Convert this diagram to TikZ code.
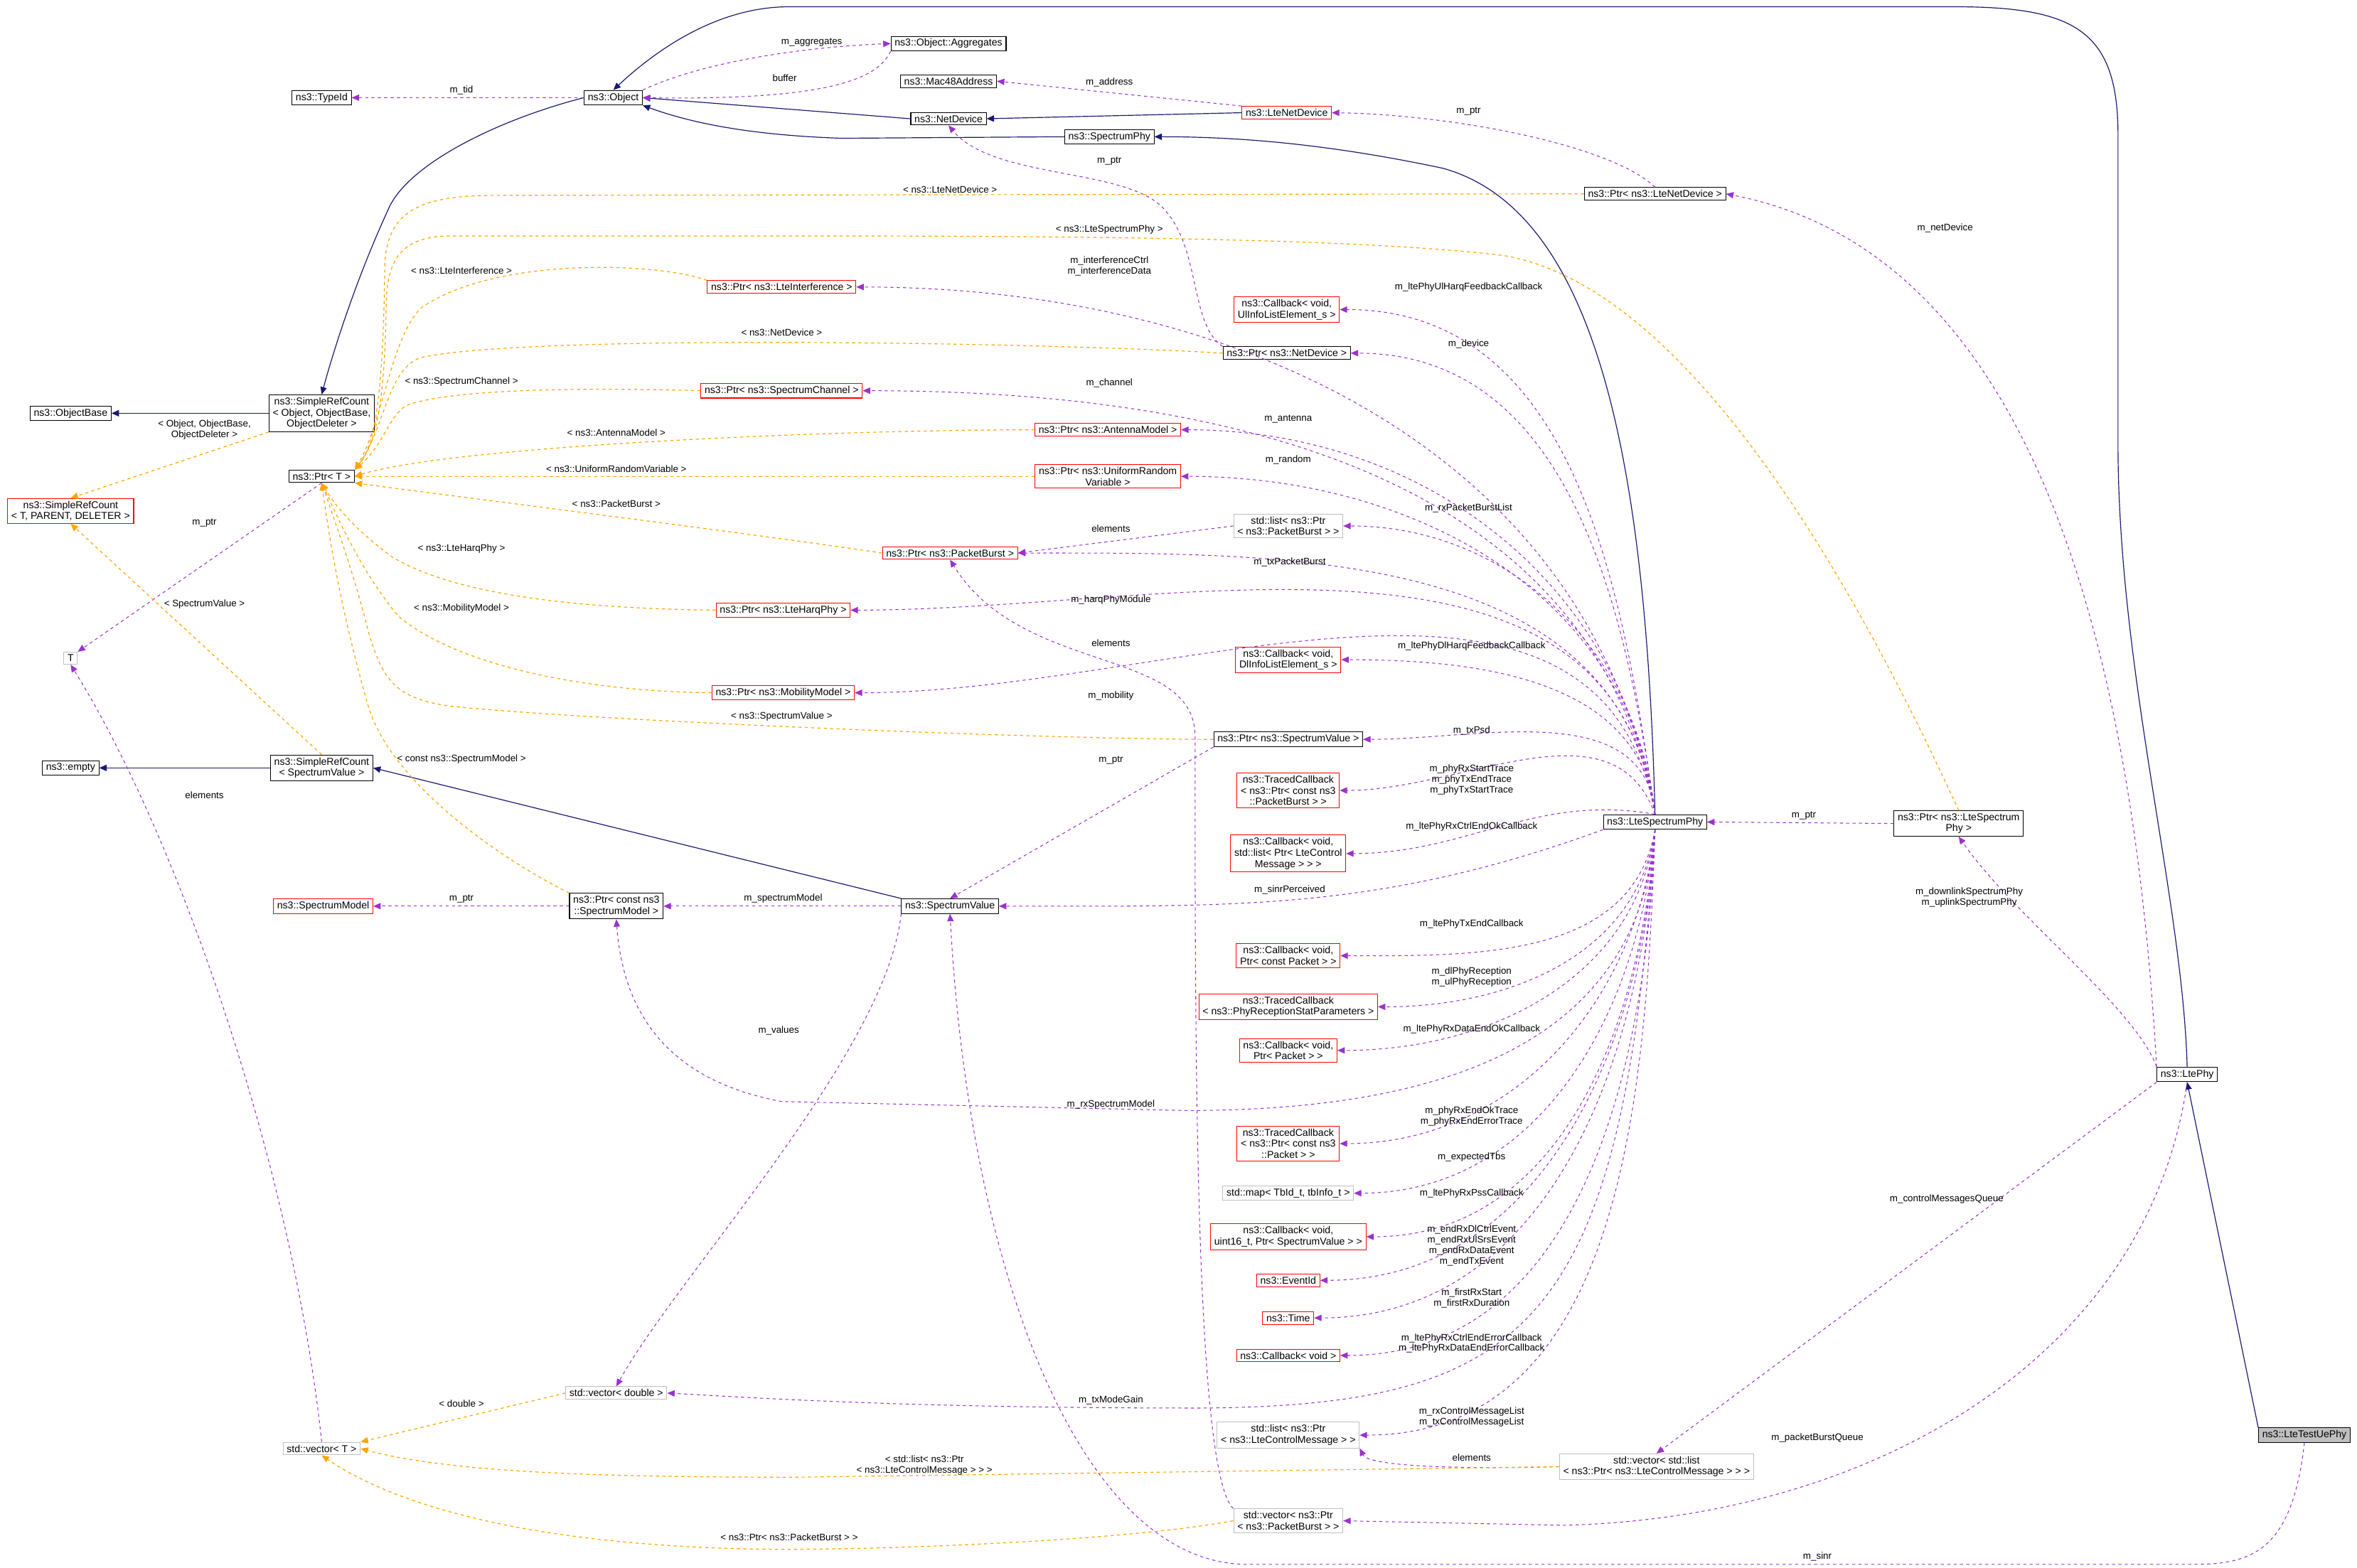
\documentclass[tikz,border=0pt]{standalone}
\usepackage{fontspec}
\setmainfont{Liberation Sans}
\usetikzlibrary{arrows.meta}
\definecolor{navy}{HTML}{191970}
\definecolor{purp}{HTML}{9A32CD}
\definecolor{orng}{HTML}{FFA500}
\definecolor{gry}{HTML}{BFBFBF}
\begin{document}
\begin{tikzpicture}[x=0.05cm,y=-0.05cm,
  box/.style={draw=black,fill=white,line width=0.7pt,inner xsep=3.5pt,inner ysep=2.5pt,align=center,font=\fontsize{9.5}{10.5}\selectfont},
  rbox/.style={box,draw=red},
  gbox/.style={box,draw=gry},
  lbl/.style={font=\fontsize{9}{10}\selectfont,align=center,inner sep=0pt},
  inh/.style={draw=navy,line width=0.8pt,-{Triangle[length=7pt,width=6pt]}},
  use/.style={draw=purp,line width=0.7pt,dashed,-{Triangle[length=7pt,width=6pt]}},
  tpl/.style={draw=orng,line width=0.8pt,dashed,-{Triangle[length=7pt,width=6pt]}}]
\useasboundingbox (0,0) rectangle (1568,1043);
% nodes
\node[box] (obj) at (408,65) {ns3::Object};
\node[box] (agg) at (631,29) {ns3::Object::Aggregates};
\node[box] (tid) at (214,65) {ns3::TypeId};
\node[box] (mac) at (631,54) {ns3::Mac48Address};
\node[box] (nd) at (631,79) {ns3::NetDevice};
\node[rbox] (lnd) at (856,75) {ns3::LteNetDevice};
\node[box] (sp) at (738,91) {ns3::SpectrumPhy};
\node[box] (plnd) at (1101,129) {ns3::Ptr< ns3::LteNetDevice >};
\node[rbox] (pli) at (520,191) {ns3::Ptr< ns3::LteInterference >};
\node[rbox] (cul) at (856,206) {ns3::Callback< void,\\UlInfoListElement\_s >};
\node[box] (pnd) at (856,235) {ns3::Ptr< ns3::NetDevice >};
\node[box] (ob) at (47,275) {ns3::ObjectBase};
\node[box] (src) at (214,275) {ns3::SimpleRefCount\\< Object, ObjectBase,\\ObjectDeleter >};
\node[rbox] (psc) at (520,260) {ns3::Ptr< ns3::SpectrumChannel >};
\node[rbox] (pam) at (737,286) {ns3::Ptr< ns3::AntennaModel >};
\node[box] (pt) at (214,317) {ns3::Ptr< T >};
\node[rbox] (srct) at (47,340) {ns3::SimpleRefCount\\< T, PARENT, DELETER >};
\node[rbox] (pur) at (737,317) {ns3::Ptr< ns3::UniformRandom\\Variable >};
\node[gbox] (lpb) at (857,350) {std::list< ns3::Ptr\\< ns3::PacketBurst > >};
\node[rbox] (ppb) at (632,368) {ns3::Ptr< ns3::PacketBurst >};
\node[rbox] (phq) at (521,406) {ns3::Ptr< ns3::LteHarqPhy >};
\node[gbox] (T) at (47,438) {T};
\node[rbox] (cdl) at (857,439) {ns3::Callback< void,\\DlInfoListElement\_s >};
\node[rbox] (pmm) at (521,461) {ns3::Ptr< ns3::MobilityModel >};
\node[box] (psv) at (857,492) {ns3::Ptr< ns3::SpectrumValue >};
\node[box] (emp) at (47,511) {ns3::empty};
\node[box] (srsv) at (214,511) {ns3::SimpleRefCount\\< SpectrumValue >};
\node[rbox] (tcpb) at (857,526) {ns3::TracedCallback\\< ns3::Ptr< const ns3\\::PacketBurst > >};
\node[box] (lsp) at (1101,547) {ns3::LteSpectrumPhy};
\node[box] (plsp) at (1303,548) {ns3::Ptr< ns3::LteSpectrum\\Phy >};
\node[rbox] (cctl) at (857,568) {ns3::Callback< void,\\std::list< Ptr< LteControl\\Message > > >};
\node[rbox] (sm) at (215,603) {ns3::SpectrumModel};
\node[box] (psm) at (410,603) {ns3::Ptr< const ns3\\::SpectrumModel >};
\node[box] (sv) at (632,603) {ns3::SpectrumValue};
\node[rbox] (cpc) at (857,636) {ns3::Callback< void,\\Ptr< const Packet > >};
\node[rbox] (tcs) at (857,670) {ns3::TracedCallback\\< ns3::PhyReceptionStatParameters >};
\node[rbox] (cp) at (857,699) {ns3::Callback< void,\\Ptr< Packet > >};
\node[box] (lp) at (1455,715) {ns3::LtePhy};
\node[rbox] (tcp) at (857,761) {ns3::TracedCallback\\< ns3::Ptr< const ns3\\::Packet > >};
\node[gbox] (map) at (857,794) {std::map< TbId\_t, tbInfo\_t >};
\node[rbox] (csv) at (857,823) {ns3::Callback< void,\\uint16\_t, Ptr< SpectrumValue > >};
\node[rbox] (eid) at (857,852) {ns3::EventId};
\node[rbox] (tim) at (857,877) {ns3::Time};
\node[rbox] (cv) at (857,902) {ns3::Callback< void >};
\node[gbox] (vd) at (410,927) {std::vector< double >};
\node[gbox] (vt) at (214,964) {std::vector< T >};
\node[gbox] (llc) at (857,955) {std::list< ns3::Ptr\\< ns3::LteControlMessage > >};
\node[box,fill=gry] (tue) at (1533,955) {ns3::LteTestUePhy};
\node[gbox] (vl) at (1102,976) {std::vector< std::list\\< ns3::Ptr< ns3::LteControlMessage > > >};
\node[gbox] (vpb) at (857,1012) {std::vector< ns3::Ptr\\< ns3::PacketBurst > >};
% inheritance
\draw[inh] (obj.west) .. controls (330,80) and (270,110) .. (258,140) .. controls (235,190) and (220,240) .. (src.north);
\draw[inh] (src.west) -- (ob.east);
\draw[inh] (nd.west) -- (obj.east);
\draw[inh] (lnd.west) -- (nd.east);
\draw[inh] (sp.west) -- (560,92) .. controls (500,90) and (460,82) .. (obj.south east);
\draw[inh] (lsp.north) .. controls (1095,300) and (1060,140) .. (960,112) .. controls (880,95) and (820,91) .. (sp.east);
\draw[inh] (lp.north) .. controls (1452,600) and (1410,450) .. (1409,300) -- (1409,90) .. controls (1409,20) and (1380,4.5) .. (1300,4.5) -- (525,4.5) .. controls (480,4.5) and (440,30) .. (obj.north);
\draw[inh] (tue.north west) -- (lp.south);
\draw[inh] (srsv.west) -- (emp.east);
\draw[inh] (sv.north west) -- (srsv.east);
% simple usage
\draw[use] (obj.north east) .. controls (470,40) and (540,31) .. (agg.west);
\node[lbl] at (540,28) {m\_aggregates};
\draw[use] (agg.south west) .. controls (585,50) and (560,67) .. (obj.east);
\node[lbl] at (522,52) {buffer};
\draw[use] (obj.west) -- (tid.east);
\node[lbl] at (307,60) {m\_tid};
\draw[use] (lnd.north west) -- (mac.east);
\node[lbl] at (738,55) {m\_address};
\draw[use] (plnd.north) .. controls (1070,95) and (960,76) .. (lnd.east);
\node[lbl] at (977,74) {m\_ptr};
\draw[use] (pnd.north west) .. controls (790,215) and (800,160) .. (770,135) .. controls (740,112) and (660,118) .. (nd.south);
\node[lbl] at (738,107) {m\_ptr};
\draw[use] (pt.south) -- (T.north east);
\node[lbl] at (136,348) {m\_ptr};
\draw[use] (vt.north) .. controls (195,780) and (120,560) .. (T.south);
\node[lbl] at (136,529) {elements};
\draw[use] (lpb.west) -- (ppb.east);
\node[lbl] at (739,352) {elements};
\draw[use] (vpb.north west) .. controls (795,980) and (795,700) .. (795,490) .. controls (795,430) and (680,450) .. (ppb.south);
\node[lbl] at (739,428) {elements};
\draw[use] (vl.west) .. controls (960,978) and (910,975) .. (llc.south east);
\node[lbl] at (979,970) {elements};
\draw[use] (psv.south west) -- (sv.north);
\node[lbl] at (739,506) {m\_ptr};
\draw[use] (psm.west) -- (sm.east);
\node[lbl] at (307,598) {m\_ptr};
\draw[use] (sv.west) -- (psm.east);
\node[lbl] at (521,598) {m\_spectrumModel};
\draw[use] (sv.south west) .. controls (590,700) and (450,850) .. (vd.north);
\node[lbl] at (518,686) {m\_values};
\draw[use] (plsp.west) -- (lsp.east);
\node[lbl] at (1200,543) {m\_ptr};
\draw[use] (lp.north west) .. controls (1420,450) and (1360,170) .. (plnd.east);
\node[lbl] at (1294,152) {m\_netDevice};
\draw[use] (lp.north west) .. controls (1420,670) and (1340,610) .. (plsp.south);
\node[lbl] at (1310,597) {m\_downlinkSpectrumPhy\\m\_uplinkSpectrumPhy};
\draw[use] (lp.south west) -- (vl.north);
\node[lbl] at (1295,798) {m\_controlMessagesQueue};
\draw[use] (lp.south) .. controls (1430,900) and (1250,1010) .. (1040,1015) -- (vpb.east);
\node[lbl] at (1209,957) {m\_packetBurstQueue};
\draw[use] (tue.south) .. controls (1525,1030) and (1500,1041) .. (1460,1041) -- (830,1041) .. controls (720,1041) and (645,850) .. (sv.south);
\node[lbl] at (1209,1036) {m\_sinr};
% fan from LteSpectrumPhy
\foreach \t/\a in {pli/100,cul/98,pnd/98,psc/100,pam/98,pur/97,lpb/96,ppb/98,phq/98,cdl/96,pmm/100,psv/95,tcpb/110,cctl/170}{
  \draw[use] (lsp.north) to[out=\a,in=0] (\t.east);}
\draw[use] (lsp.south west) to[out=200,in=0] (sv.east);
\foreach \t/\a in {cpc/260,tcs/262,cp/263,tcp/264,map/265,csv/266,eid/267,tim/267,cv/268,llc/268}{
  \draw[use] (lsp.south) to[out=\a,in=0] (\t.east);}
\draw[use] (lsp.south) .. controls (1090,700) and (950,739) .. (789,739) -- (520,733) .. controls (450,720) and (415,680) .. (psm.south);
\draw[use] (lsp.south) .. controls (1080,880) and (1020,935) .. (800,937) .. controls (600,937) and (500,930) .. (vd.east);
\node[lbl] at (738,177) {m\_interferenceCtrl\\m\_interferenceData};
\node[lbl] at (977,191) {m\_ltePhyUlHarqFeedbackCallback};
\node[lbl] at (977,229) {m\_device};
\node[lbl] at (738,255) {m\_channel};
\node[lbl] at (857,279) {m\_antenna};
\node[lbl] at (857,306) {m\_random};
\node[lbl] at (977,338) {m\_rxPacketBurstList};
\node[lbl] at (858,374) {m\_txPacketBurst};
\node[lbl] at (739,399) {m\_harqPhyModule};
\node[lbl] at (979,430) {m\_ltePhyDlHarqFeedbackCallback};
\node[lbl] at (739,463) {m\_mobility};
\node[lbl] at (979,486) {m\_txPsd};
\node[lbl] at (979,519) {m\_phyRxStartTrace\\m\_phyTxEndTrace\\m\_phyTxStartTrace};
\node[lbl] at (979,550) {m\_ltePhyRxCtrlEndOkCallback};
\node[lbl] at (858,592) {m\_sinrPerceived};
\node[lbl] at (979,615) {m\_ltePhyTxEndCallback};
\node[lbl] at (979,650) {m\_dlPhyReception\\m\_ulPhyReception};
\node[lbl] at (979,685) {m\_ltePhyRxDataEndOkCallback};
\node[lbl] at (739,735) {m\_rxSpectrumModel};
\node[lbl] at (979,743) {m\_phyRxEndOkTrace\\m\_phyRxEndErrorTrace};
\node[lbl] at (979,770) {m\_expectedTbs};
\node[lbl] at (979,794) {m\_ltePhyRxPssCallback};
\node[lbl] at (979,829) {m\_endRxDlCtrlEvent\\m\_endRxUlSrsEvent\\m\_endRxDataEvent\\m\_endTxEvent};
\node[lbl] at (979,864) {m\_firstRxStart\\m\_firstRxDuration};
\node[lbl] at (979,894) {m\_ltePhyRxCtrlEndErrorCallback\\m\_ltePhyRxDataEndErrorCallback};
\node[lbl] at (739,932) {m\_txModeGain};
\node[lbl] at (979,943) {m\_rxControlMessageList\\m\_txControlMessageList};
% templates
\draw[tpl] (src.south west) -- (srct.north);
\node[lbl] at (136,286) {< Object, ObjectBase,\\ObjectDeleter >};
\draw[tpl] (srsv.north) -- (srct.south);
\node[lbl] at (136,402) {< SpectrumValue >};
\draw[tpl] (plnd.west) -- (330,130) .. controls (280,130) and (258,140) .. (256,175) .. controls (255,260) and (250,295) .. (pt.north east);
\node[lbl] at (632,126) {< ns3::LteNetDevice >};
\draw[tpl] (plsp.north) .. controls (1230,380) and (1120,190) .. (1000,170) .. controls (900,158) and (700,157) .. (520,157) -- (300,157) .. controls (265,157) and (258,175) .. (257,200) .. controls (256,270) and (250,295) .. (pt.north east);
\node[lbl] at (738,153) {< ns3::LteSpectrumPhy >};
\draw[tpl] (pli.north west) .. controls (440,175) and (330,170) .. (280,205) .. controls (260,225) and (255,280) .. (pt.north east);
\node[lbl] at (307,180) {< ns3::LteInterference >};
\draw[tpl] (pnd.west) .. controls (700,228) and (350,222) .. (280,238) .. controls (258,245) and (256,285) .. (pt.north east);
\node[lbl] at (520,221) {< ns3::NetDevice >};
\draw[tpl] (psc.west) .. controls (400,258) and (300,258) .. (270,270) .. controls (258,278) and (256,295) .. (pt.north east);
\node[lbl] at (307,254) {< ns3::SpectrumChannel >};
\draw[tpl] (pam.west) .. controls (550,286) and (300,297) .. (pt.east);
\node[lbl] at (410,288) {< ns3::AntennaModel >};
\draw[tpl] (pur.west) -- (pt.east);
\node[lbl] at (410,312) {< ns3::UniformRandomVariable >};
\draw[tpl] (ppb.west) .. controls (500,355) and (300,330) .. (pt.south east);
\node[lbl] at (410,335) {< ns3::PacketBurst >};
\draw[tpl] (phq.west) .. controls (380,405) and (300,395) .. (260,370) .. controls (240,355) and (225,340) .. (pt.south);
\node[lbl] at (307,365) {< ns3::LteHarqPhy >};
\draw[tpl] (pmm.west) .. controls (380,460) and (300,440) .. (265,410) .. controls (240,380) and (225,345) .. (pt.south);
\node[lbl] at (307,405) {< ns3::MobilityModel >};
\draw[tpl] (psv.west) .. controls (700,492) and (400,480) .. (300,470) .. controls (265,465) and (255,455) .. (245,420) .. controls (235,380) and (222,345) .. (pt.south);
\node[lbl] at (520,477) {< ns3::SpectrumValue >};
\draw[tpl] (psm.north west) .. controls (330,570) and (260,520) .. (245,470) .. controls (225,400) and (218,350) .. (pt.south);
\node[lbl] at (307,505) {< const ns3::SpectrumModel >};
\draw[tpl] (vd.west) -- (vt.north east);
\node[lbl] at (307,934) {< double >};
\draw[tpl] (vl.west) -- (530,983) .. controls (400,983) and (300,980) .. (vt.east);
\node[lbl] at (615,975) {< std::list< ns3::Ptr\\< ns3::LteControlMessage > > >};
\draw[tpl] (vpb.west) .. controls (750,1025) and (600,1031) .. (520,1031) .. controls (350,1030) and (260,1000) .. (vt.south);
\node[lbl] at (525,1023) {< ns3::Ptr< ns3::PacketBurst > >};
\end{tikzpicture}
\end{document}
